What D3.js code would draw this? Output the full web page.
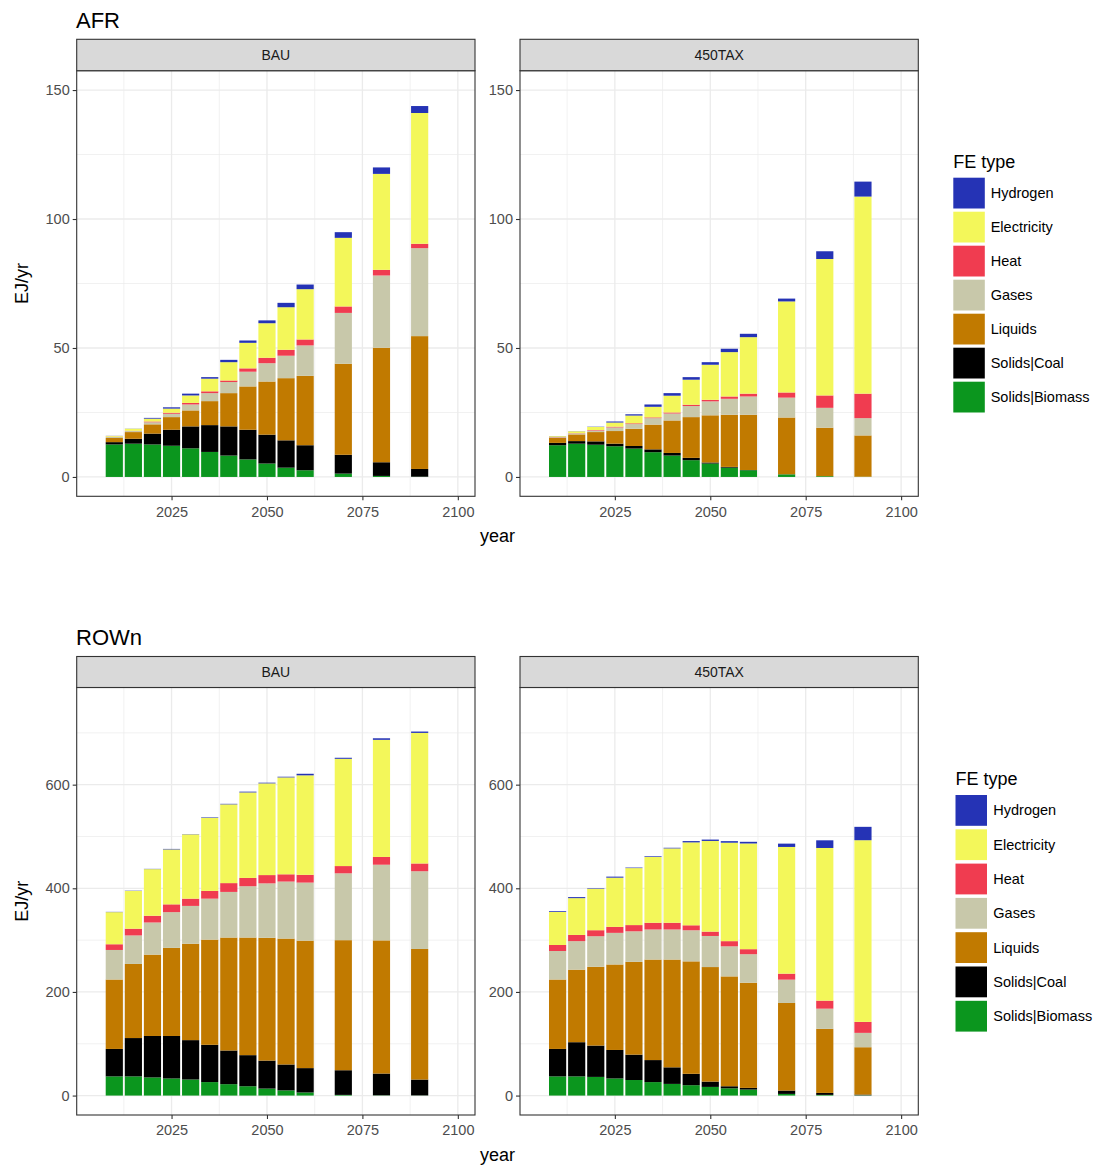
<!DOCTYPE html>
<html>
<head>
<meta charset="utf-8">
<script src="https://cdn.jsdelivr.net/npm/d3@7/dist/d3.min.js"></script>
<style>
  html, body { margin: 0; padding: 0; background: #ffffff; }
  svg { display: block; font-family: "Liberation Sans", Arial, sans-serif; }
</style>
</head>
<body>
<svg id="chart" width="1100" height="1167"></svg>
<script>
// ---------------- DATA ----------------
const years = [2010, 2015, 2020, 2025, 2030, 2035, 2040, 2045, 2050, 2055, 2060, 2070, 2080, 2090];
const fuels = ["Solids|Biomass", "Solids|Coal", "Liquids", "Gases", "Heat", "Electricity", "Hydrogen"];
const fuelColors = ["#0b961e", "#000000", "#c17a00", "#c8c8aa", "#f03c50", "#f3f75a", "#2533b5"];
const scenarios = ["BAU", "450TAX"];
const regions = ["AFR", "ROWn"];

// AFR, BAU (EJ/yr)
const afrBAU = {
  "Solids|Biomass": [12.6, 12.9, 12.6, 12.1, 11.1, 9.7, 8.3, 6.8, 5.2, 3.6, 2.6, 1.3, 0.4, 0.1],
  "Solids|Coal":    [0.9, 1.9, 4.2, 6.2, 8.5, 10.4, 11.3, 11.5, 11.2, 10.6, 9.7, 7.3, 5.3, 3.0],
  "Liquids":        [1.6, 2.6, 3.6, 4.9, 6.2, 9.3, 12.9, 16.8, 20.6, 24.1, 26.9, 35.3, 44.4, 51.5],
  "Gases":          [0.4, 0.4, 0.8, 1.3, 2.3, 3.1, 4.3, 5.7, 7.1, 8.7, 11.8, 19.7, 28.0, 34.1],
  "Heat":           [0.1, 0.1, 0.3, 0.4, 0.6, 0.7, 0.6, 1.3, 2.1, 2.3, 2.3, 2.5, 2.2, 1.7],
  "Electricity":    [0.3, 0.8, 1.1, 1.6, 2.9, 4.9, 7.1, 9.9, 13.4, 16.5, 19.5, 26.6, 37.2, 50.7],
  "Hydrogen":       [0.05, 0.05, 0.3, 0.5, 0.7, 0.6, 0.9, 0.9, 1.1, 1.7, 1.8, 2.2, 2.5, 2.7]
};
// AFR, 450TAX
const afrTAX = {
  "Solids|Biomass": [12.3, 12.9, 12.5, 11.9, 11.0, 9.6, 8.3, 6.5, 5.2, 3.6, 2.6, 1.0, 0.3, 0.1],
  "Solids|Coal":    [0.9, 1.0, 1.3, 1.0, 1.0, 1.1, 1.0, 0.9, 0.4, 0.3, 0.1, 0.05, 0, 0],
  "Liquids":        [1.9, 2.6, 3.6, 4.9, 6.7, 9.6, 12.6, 15.8, 18.3, 20.2, 21.4, 22.0, 18.8, 16.0],
  "Gases":          [0.3, 0.4, 0.6, 1.4, 1.8, 2.5, 2.7, 4.3, 5.4, 6.2, 7.1, 7.7, 7.7, 6.7],
  "Heat":           [0.1, 0.1, 0.2, 0.3, 0.3, 0.3, 0.4, 0.5, 0.6, 0.9, 1.1, 2.0, 4.8, 9.5],
  "Electricity":    [0.3, 0.7, 1.2, 1.6, 3.0, 4.1, 6.5, 9.7, 13.6, 17.2, 21.9, 35.3, 52.9, 76.4],
  "Hydrogen":       [0.05, 0.05, 0.1, 0.4, 0.5, 0.9, 1.0, 1.0, 1.0, 1.3, 1.3, 1.1, 3.0, 5.8]
};
// ROWn, BAU
const rownBAU = {
  "Solids|Biomass": [37, 37, 35, 33, 31, 26, 22, 18, 13.5, 10, 6, 1.3, 0.5, 0.3],
  "Solids|Coal":    [53, 74, 80, 82, 76, 72, 65, 60, 54, 50, 47, 47.6, 42, 30.6],
  "Liquids":        [134, 143, 157, 170, 186, 203, 218, 227, 237, 243, 246, 251, 257, 252],
  "Gases":          [57, 55, 62, 69, 73, 79, 88, 99, 105, 110, 112, 129, 146, 150],
  "Heat":           [11, 13, 13, 15, 14, 15, 17, 16, 16, 14, 15, 14, 15, 15],
  "Electricity":    [62, 73, 90, 106, 124, 141, 152, 165, 177, 187, 192, 207, 226, 252],
  "Hydrogen":       [0.5, 0.5, 0.5, 1, 0.5, 1, 1, 1.5, 1.3, 1.3, 3, 2, 3, 2.6]
};
// ROWn, 450TAX
const rownTAX = {
  "Solids|Biomass": [37, 37, 36, 33, 30, 26, 22.5, 20, 16.7, 14, 11.6, 3.2, 1.3, 0.5],
  "Solids|Coal":    [53, 66, 60.5, 55, 49, 42.5, 32, 22, 10.3, 4, 3.2, 6.5, 3.8, 1.4],
  "Liquids":        [134, 140, 152, 165, 179, 194, 208, 217, 221, 212, 203, 169, 123.6, 91.4],
  "Gases":          [55, 55, 59, 61, 59, 58, 58, 60, 60, 58, 55, 45, 39, 27.7],
  "Heat":           [11.6, 12, 11.6, 11.5, 12, 13, 13, 9.6, 8.4, 10, 9.7, 11.6, 15.5, 21.2],
  "Electricity":    [63.7, 71, 80, 95, 110, 127, 143.5, 160, 175, 190, 204, 244.5, 294.6, 350.6],
  "Hydrogen":       [1.5, 2, 1, 2, 1, 1.3, 1.2, 2.5, 2.6, 3, 3.2, 6.4, 14.8, 25.8]
};

const xTicks = [2025, 2050, 2075, 2100];
const xMinorTicks = [2012.5, 2037.5, 2062.5, 2087.5];
const afrYTicks = [0, 50, 100, 150];
const afrYMinorTicks = [25, 75, 125];
const rownYTicks = [0, 200, 400, 600];
const rownYMinorTicks = [100, 300, 500, 700];
const yLabel = "EJ/yr";
const xLabel = "year";
const legendTitle = "FE type";

// ---------------- LAYOUT ----------------
const svg = d3.select("#chart");
const panelX = [[76.7, 475], [520, 918.3]];
const xDomain = [2000.15, 2104.5];
const barHalf = 2.25;

const figures = [
  { region: regions[0], data: [afrBAU, afrTAX], yDomain: [-7.5, 157.5], yTicks: afrYTicks, yMinor: afrYMinorTicks,
    titleY: 27.5, stripTop: 39.3, plotTop: 70.7, plotBottom: 496.3, legendX: 953.3, legendTitleY: 167.5, legendKeyTop: 177.7, legendPitch: 34, labelX: 990.7 },
  { region: regions[1], data: [rownBAU, rownTAX], yDomain: [-37.5, 787.5], yTicks: rownYTicks, yMinor: rownYMinorTicks,
    titleY: 644.5, stripTop: 656.5, plotTop: 687.5, plotBottom: 1115, legendX: 955.5, legendTitleY: 785, legendKeyTop: 795, legendPitch: 34.3, labelX: 993.3 }
];

figures.forEach(fig => {
  const g = svg.append("g");
  // region title
  g.append("text").attr("x", 76).attr("y", fig.titleY)
    .attr("font-size", 22).attr("fill", "#000").text(fig.region);

  const y = d3.scaleLinear().domain(fig.yDomain).range([fig.plotBottom, fig.plotTop]);

  scenarios.forEach((scen, si) => {
    const [x0, x1] = panelX[si];
    const x = d3.scaleLinear().domain(xDomain).range([x0, x1]);
    const pg = g.append("g");

    // panel background
    pg.append("rect").attr("x", x0).attr("y", fig.plotTop).attr("width", x1 - x0)
      .attr("height", fig.plotBottom - fig.plotTop).attr("fill", "#fff");

    // minor grid
    pg.selectAll(".ymin").data(fig.yMinor).join("line")
      .attr("x1", x0).attr("x2", x1).attr("y1", d => y(d)).attr("y2", d => y(d))
      .attr("stroke", "#ebebeb").attr("stroke-width", 0.7);
    pg.selectAll(".xmin").data(xMinorTicks).join("line")
      .attr("y1", fig.plotTop).attr("y2", fig.plotBottom).attr("x1", d => x(d)).attr("x2", d => x(d))
      .attr("stroke", "#ebebeb").attr("stroke-width", 0.7);
    // major grid
    pg.selectAll(".ymaj").data(fig.yTicks).join("line")
      .attr("x1", x0).attr("x2", x1).attr("y1", d => y(d)).attr("y2", d => y(d))
      .attr("stroke", "#ebebeb").attr("stroke-width", 1.3);
    pg.selectAll(".xmaj").data(xTicks).join("line")
      .attr("y1", fig.plotTop).attr("y2", fig.plotBottom).attr("x1", d => x(d)).attr("x2", d => x(d))
      .attr("stroke", "#ebebeb").attr("stroke-width", 1.3);

    // stacked bars
    const panelData = fig.data[si];
    const rows = years.map((yr, i) => {
      const r = { year: yr };
      fuels.forEach(f => r[f] = panelData[f][i]);
      return r;
    });
    const stacked = d3.stack().keys(fuels)(rows);
    stacked.forEach((layer, li) => {
      pg.append("g").attr("fill", fuelColors[li])
        .selectAll("rect").data(layer).join("rect")
        .attr("x", d => x(d.data.year - barHalf))
        .attr("width", d => x(d.data.year + barHalf) - x(d.data.year - barHalf))
        .attr("y", d => y(d[1]))
        .attr("height", d => Math.max(0, y(d[0]) - y(d[1])));
    });

    // panel border
    pg.append("rect").attr("x", x0).attr("y", fig.plotTop).attr("width", x1 - x0)
      .attr("height", fig.plotBottom - fig.plotTop).attr("fill", "none")
      .attr("stroke", "#333333").attr("stroke-width", 1.1);

    // strip
    pg.append("rect").attr("x", x0).attr("y", fig.stripTop).attr("width", x1 - x0)
      .attr("height", fig.plotTop - fig.stripTop).attr("fill", "#d9d9d9")
      .attr("stroke", "#333333").attr("stroke-width", 1.1);
    pg.append("text").attr("x", (x0 + x1) / 2).attr("y", (fig.stripTop + fig.plotTop) / 2)
      .attr("dy", "0.35em").attr("text-anchor", "middle").attr("font-size", 14)
      .attr("fill", "#1a1a1a").text(scen);

    // y axis
    const yAxis = d3.axisLeft(y).tickValues(fig.yTicks).tickSize(4).tickPadding(3);
    const ya = pg.append("g").attr("transform", `translate(${x0},0)`).call(yAxis);
    ya.select(".domain").remove();
    ya.selectAll(".tick line").attr("stroke", "#333333").attr("stroke-width", 1.1);
    ya.selectAll(".tick text").attr("fill", "#4d4d4d").attr("font-size", 14.5)
      .attr("font-family", "Liberation Sans, Arial, sans-serif");

    // x axis
    const xAxis = d3.axisBottom(x).tickValues(xTicks).tickFormat(d3.format("d")).tickSize(4).tickPadding(6);
    const xa = pg.append("g").attr("transform", `translate(0,${fig.plotBottom})`).call(xAxis);
    xa.select(".domain").remove();
    xa.selectAll(".tick line").attr("stroke", "#333333").attr("stroke-width", 1.1);
    xa.selectAll(".tick text").attr("fill", "#4d4d4d").attr("font-size", 14.5)
      .attr("font-family", "Liberation Sans, Arial, sans-serif");
  });

  // axis titles
  g.append("text").attr("x", (panelX[0][0] + panelX[1][1]) / 2).attr("y", fig.plotBottom + 46)
    .attr("text-anchor", "middle").attr("font-size", 18).attr("fill", "#000").text(xLabel);
  const yMid = (fig.plotTop + fig.plotBottom) / 2;
  g.append("text").attr("transform", `translate(28,${yMid}) rotate(-90)`)
    .attr("text-anchor", "middle").attr("font-size", 18).attr("fill", "#000").text(yLabel);

  // legend
  const lg = g.append("g");
  lg.append("text").attr("x", fig.legendX).attr("y", fig.legendTitleY)
    .attr("font-size", 18).attr("fill", "#000").text(legendTitle);
  const legendOrder = fuels.map((f, i) => ({ f, c: fuelColors[i] })).reverse();
  const items = lg.selectAll(".item").data(legendOrder).join("g")
    .attr("transform", (d, i) => `translate(0,${fig.legendKeyTop + i * fig.legendPitch})`);
  items.append("rect").attr("x", fig.legendX).attr("y", 0).attr("width", 31.5).attr("height", 30.8)
    .attr("fill", d => d.c);
  items.append("text").attr("x", fig.labelX).attr("y", 15.4).attr("dy", "0.35em")
    .attr("font-size", 14.5).attr("fill", "#000").text(d => d.f);
});
</script>
</body>
</html>
